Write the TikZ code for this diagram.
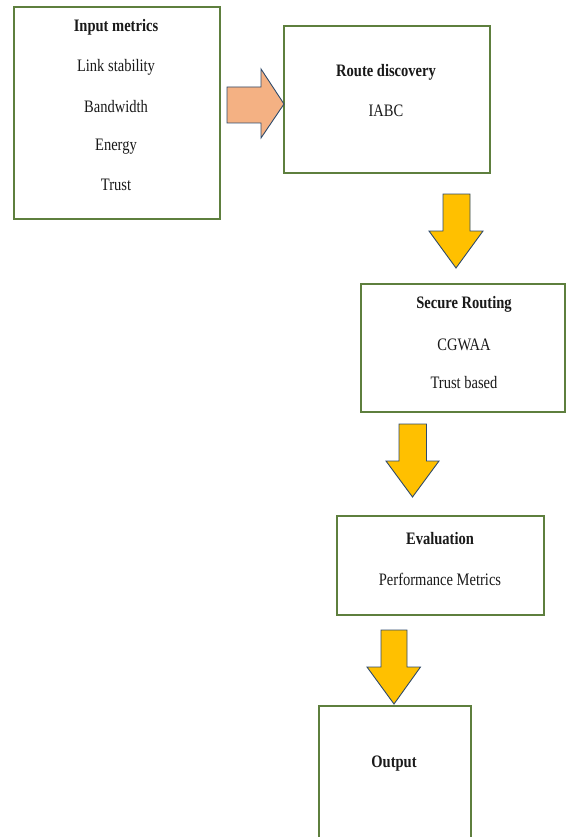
\documentclass[tikz,border=0pt]{standalone}
\usepackage{graphicx}
\usepackage{fontspec}
\setmainfont{Liberation Serif}
\newcommand{\narrowtxt}[1]{\scalebox{0.83}[1]{#1}}
\begin{document}
\begin{tikzpicture}[x=1pt,y=-1pt,
  box/.style={draw=boxgreen,line width=1.4pt,fill=white,inner sep=0pt},
  lbl/.style={inner sep=0pt,font=\fontsize{17.5}{19}\selectfont,text=black!90},
  ttl/.style={lbl,font=\fontsize{17.5}{19}\selectfont\bfseries},
  blockarrow/.style={draw=arrowblue,line width=0.9pt,line join=miter}]
\definecolor{boxgreen}{HTML}{5E7F3E}
\definecolor{arrowblue}{HTML}{2E4A6B}
\definecolor{orangefill}{HTML}{F4B183}
\definecolor{yellowfill}{HTML}{FFC000}
\useasboundingbox (0,0) rectangle (566,837);
\clip (0,0) rectangle (566,837);
% boxes
\node[box,minimum width=206,minimum height=212] (input) at (117,113) {};
\node[box,minimum width=206,minimum height=147] (route) at (387,99.5) {};
\node[box,minimum width=204,minimum height=128] (secure) at (463,348) {};
\node[box,minimum width=207,minimum height=99] (eval) at (440.5,565.5) {};
\node[box,minimum width=152,minimum height=150] (output) at (395,781) {};
% texts
\node[ttl] (t1) at (116,27) {\narrowtxt{Input metrics}};
\node[lbl] (t2) at (116,67) {\narrowtxt{Link stability}};
\node[lbl] (t3) at (116,107) {\narrowtxt{Bandwidth}};
\node[lbl] (t4) at (116,147) {\narrowtxt{Energy}};
\node[lbl] (t5) at (116,185) {\narrowtxt{Trust}};
\node[ttl] (r1) at (386,72) {\narrowtxt{Route discovery}};
\node[lbl] (r2) at (386,111) {\narrowtxt{IABC}};
\node[ttl] (s1) at (464,304) {\narrowtxt{Secure Routing}};
\node[lbl] (s2) at (464,345) {\narrowtxt{CGWAA}};
\node[lbl] (s3) at (464,383) {\narrowtxt{Trust based}};
\node[ttl] (e1) at (440,539) {\narrowtxt{Evaluation}};
\node[lbl] (e2) at (440,579) {\narrowtxt{Performance Metrics}};
\node[ttl] (o1) at (394,764) {\narrowtxt{Output}};
% block arrows
\draw[blockarrow,fill=orangefill] (227,87) -- (261,87) -- (261,69) -- (284,104) -- (261,138) -- (261,123) -- (227,123) -- cycle;
\draw[blockarrow,fill=yellowfill] (443,194) -- (470,194) -- (470,231) -- (483,231) -- (456,268) -- (429,231) -- (443,231) -- cycle;
\draw[blockarrow,fill=yellowfill] (399,424) -- (426.5,424) -- (426.5,461) -- (439,461) -- (412.5,497) -- (386,461) -- (399,461) -- cycle;
\draw[blockarrow,fill=yellowfill] (381,630) -- (407,630) -- (407,667) -- (420.5,667) -- (394,704) -- (367,667) -- (381,667) -- cycle;
\end{tikzpicture}
\end{document}
